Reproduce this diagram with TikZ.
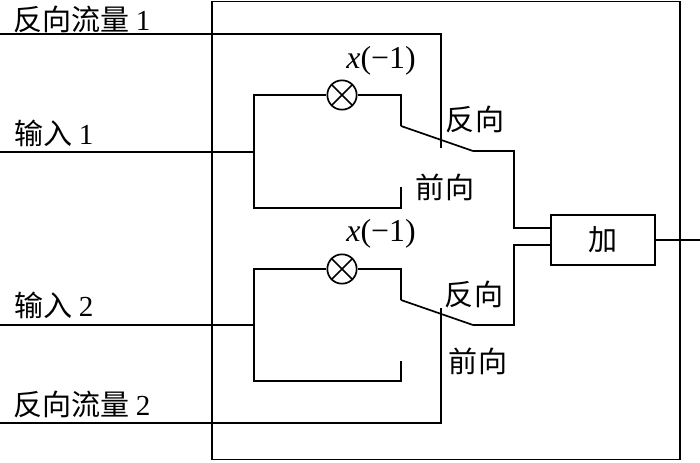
\documentclass[tikz,border=0pt]{standalone}
\usepackage{fontspec}
\setmainfont{Liberation Serif}
\newfontfamily\cjk{Noto Sans CJK SC}
\usepackage{tikz}
\usetikzlibrary{positioning, calc}

\begin{document}
\begin{tikzpicture}[
    x=0.0375cm, y=-0.0375cm,
    font=\fontsize{31}{34}\selectfont,
    label/.style={inner sep=0pt, anchor=center},
    inlabel/.style={inner sep=0pt, anchor=west},
    gainlabel/.style={inner sep=0pt, anchor=center, font=\fontsize{34}{36}\selectfont},
    adder/.style={rectangle, draw=black, line width=1.5pt, minimum width=3.9cm, minimum height=1.88cm, inner sep=0pt},
    mixer/.style={circle, draw=black, line width=1.8pt, minimum size=1.1cm, inner sep=0pt,
        path picture={
            \draw [line width=1.8pt] (path picture bounding box.south west) -- (path picture bounding box.north east);
            \draw [line width=1.8pt] (path picture bounding box.north west) -- (path picture bounding box.south east);
        }},
    wire/.style={draw=black, line width=1.4pt},
    slant/.style={draw=black, line width=1.8pt}
]
\useasboundingbox (0,0) rectangle (700,462);

% Outer box
\node (chip) [draw=black, line width=1.4pt, minimum width=17.55cm, minimum height=17.2cm, inner sep=0pt] at (446,230.5) {};

% Nodes
\node (sum) [adder] at (603,240) {\cjk 加};
\node (mixa) [mixer] at (342,95) {};
\node (mixb) [mixer] at (342,269) {};

% Free ends and corners
\coordinate (revain) at (0,34);
\coordinate (reva) at (441,148);
\coordinate (inain) at (0,152);
\coordinate (ina) at (254,152);
\coordinate (swa) at (401,126);
\coordinate (swaout) at (473,151);
\coordinate (fwa) at (401,187);
\coordinate (revbin) at (0,423);
\coordinate (revb) at (441,308);
\coordinate (inbin) at (0,325);
\coordinate (inb) at (254,325);
\coordinate (swb) at (401,300);
\coordinate (swbout) at (473,325);
\coordinate (fwb) at (401,361);
\coordinate (out) at (700,240);
\coordinate (suma) at (551,228);
\coordinate (sumb) at (551,245);

% Labels
\node (l1) [inlabel] at (13,19) {\cjk 反向流量 \rmfamily 1};
\node (l2) [inlabel] at (14,133) {\cjk 输入 \rmfamily 1};
\node (l3) [inlabel] at (14,305) {\cjk 输入 \rmfamily 2};
\node (l4) [inlabel] at (13,404) {\cjk 反向流量 \rmfamily 2};
\node (xa) [gainlabel] at (381,61) {\textit{x}(\textminus1)};
\node (xb) [gainlabel] at (381,234) {\textit{x}(\textminus1)};
\node (ra) [label] at (475,119) {\cjk 反向};
\node (fa) [label] at (445,187) {\cjk 前向};
\node (rb) [label] at (474,294) {\cjk 反向};
\node (fb) [label] at (478,361) {\cjk 前向};

% Connections
\draw [wire] (revain) -| (reva);
\draw [wire] (inain) -- (ina);
\draw [wire] (ina) |- (mixa);
\draw [wire] (mixa) -| (swa);
\draw [slant] (swa) -- (swaout);
\draw [wire] (swaout) -- (514,151) |- (suma);
\draw [wire] (ina) |- (fwa |- 0,208) -- (fwa);
\draw [wire] (revbin) -| (revb);
\draw [wire] (inbin) -- (inb);
\draw [wire] (inb) |- (mixb);
\draw [wire] (mixb) -| (swb);
\draw [slant] (swb) -- (swbout);
\draw [wire] (swbout) -- (514,325) |- (sumb);
\draw [wire] (inb) |- (fwb |- 0,381) -- (fwb);
\draw [wire] (sum) -- (out);

\end{tikzpicture}
\end{document}
